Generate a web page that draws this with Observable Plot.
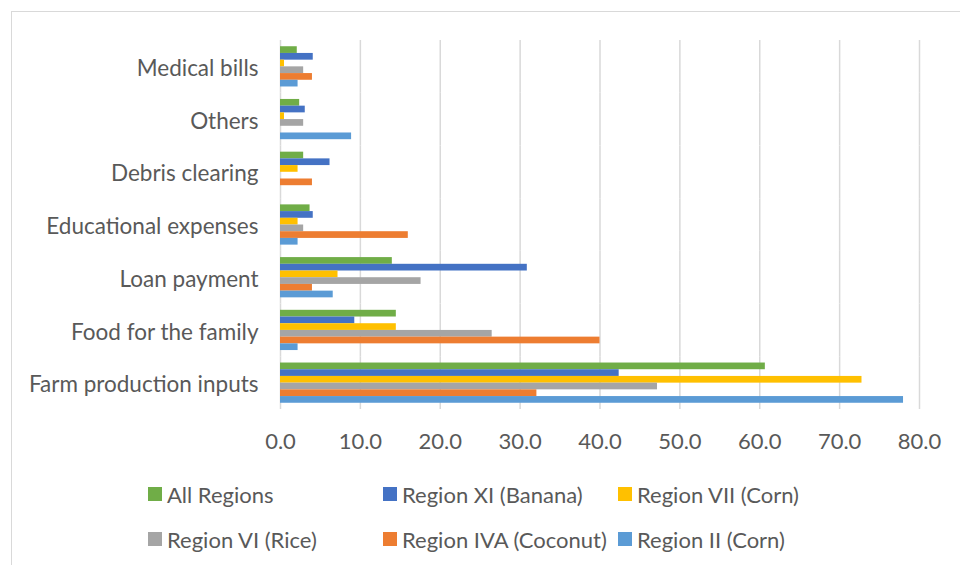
<!DOCTYPE html>
<html>
<head>
<meta charset="utf-8">
<script src="https://cdn.jsdelivr.net/npm/d3@7"></script>
<script src="https://cdn.jsdelivr.net/npm/@observablehq/plot@0.6"></script>
<style>
  html, body { margin: 0; padding: 0; background: #fff; overflow: hidden; }
  body { width: 960px; height: 565px; position: relative; font-family: Lato, "Open Sans", sans-serif; }
  #frame { position: absolute; left: 11px; top: 11px; width: 1000px; height: 600px; border-left: 1.5px solid #d9d9d9; border-top: 1.5px solid #d9d9d9; }
  #chart { position: absolute; left: 0; top: 0; }
  .leg { position: absolute; height: 30px; display: flex; align-items: center; font-size: 22px; color: #595959; white-space: nowrap; }
  .sw { width: 14px; height: 14px; margin-right: 5px; flex: none; }
</style>
</head>
<body>
<div id="frame"></div>
<div id="chart"></div>
<div id="legend"></div>
<script>
const categories = ["Medical bills", "Others", "Debris clearing", "Educational expenses", "Loan payment", "Food for the family", "Farm production inputs"];
const series = ["All Regions", "Region XI (Banana)", "Region VII (Corn)", "Region VI (Rice)", "Region IVA (Coconut)", "Region II (Corn)"];
const colors = ["#70AD47", "#4472C4", "#FFC000", "#A5A5A5", "#ED7D31", "#5B9BD5"];

const allRegions = [2.1, 2.4, 2.9, 3.7, 14.0, 14.5, 60.7];
const regionXI   = [4.1, 3.1, 6.2, 4.1, 30.9, 9.3, 42.4];
const regionVII  = [0.5, 0.5, 2.2, 2.2, 7.2, 14.5, 72.8];
const regionVI   = [2.9, 2.9, 0, 2.9, 17.6, 26.5, 47.2];
const regionIVA  = [4.0, 0, 4.0, 16.0, 4.0, 40.0, 32.1];
const regionII   = [2.2, 8.9, 0, 2.2, 6.6, 2.2, 78.0];
const xTicks = [0, 10, 20, 30, 40, 50, 60, 70, 80];

const seriesValues = [allRegions, regionXI, regionVII, regionVI, regionIVA, regionII];
const data = [];
series.forEach((s, i) => {
  categories.forEach((c, j) => {
    const v = seriesValues[i][j];
    if (v > 0) data.push({series: s, category: c, value: v});
  });
});

const chart = Plot.plot({
  width: 960,
  height: 460,
  marginTop: 40,
  marginBottom: 51,
  marginLeft: 280,
  marginRight: 41,
  style: {fontFamily: "Lato, 'Open Sans', sans-serif", fontSize: "22px", color: "#595959", background: "transparent", overflow: "visible"},
  x: {domain: [0, 80], ticks: xTicks, tickFormat: d3.format(".1f"), tickSize: 0, tickPadding: 24, label: null},
  y: {domain: series, axis: null, paddingInner: 0, paddingOuter: 0.93, round: false},
  fy: {domain: categories, padding: 0, round: false, label: null},
  color: {domain: series, range: colors},
  marks: [
    Plot.ruleX(xTicks, {stroke: "#d9d9d9", strokeWidth: 1.5}),
    Plot.barX(data, {x: "value", y: "series", fy: "category", fill: "series"}),
    Plot.axisFy({anchor: "left", tickSize: 0, tickPadding: 22, label: null, fontSize: 22.5, dy: 2})
  ]
});
document.getElementById("chart").appendChild(chart);

const legendPos = [
  {sx: 148, cy: 494}, {sx: 383, cy: 494}, {sx: 618, cy: 494},
  {sx: 148, cy: 539}, {sx: 383, cy: 539}, {sx: 618, cy: 539}
];
const legend = document.getElementById("legend");
series.forEach((s, i) => {
  const item = document.createElement("div");
  item.className = "leg";
  item.style.left = legendPos[i].sx + "px";
  item.style.top = (legendPos[i].cy - 15) + "px";
  const sw = document.createElement("span");
  sw.className = "sw";
  sw.style.background = colors[i];
  const t = document.createElement("span");
  t.textContent = s;
  item.appendChild(sw);
  item.appendChild(t);
  legend.appendChild(item);
});
</script>
</body>
</html>
